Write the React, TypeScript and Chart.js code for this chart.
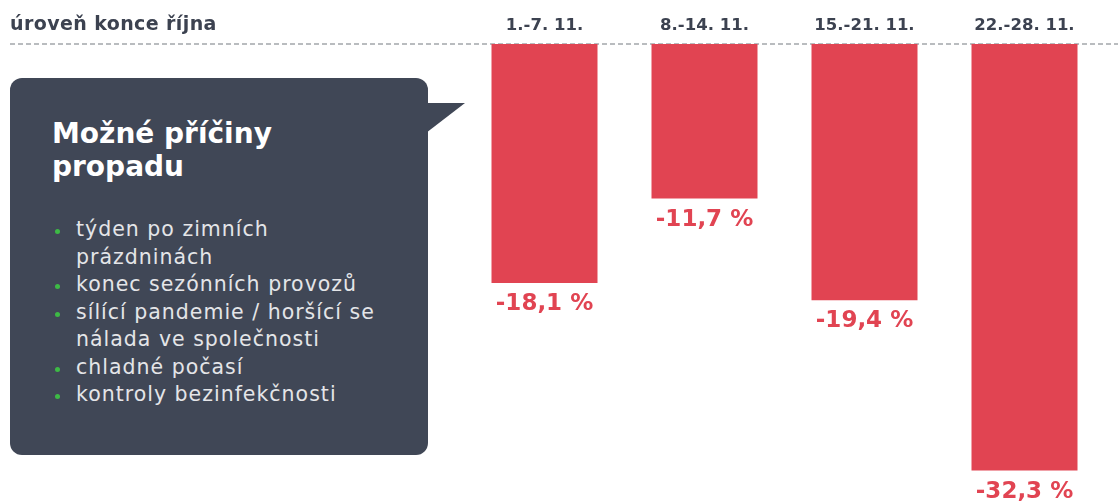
import React, { useEffect, useRef } from "react";
import { Chart, registerables } from "chart.js";

Chart.register(...registerables);

const categories = ["1.-7. 11.", "8.-14. 11.", "15.-21. 11.", "22.-28. 11."];
const changes = [-18.1, -11.7, -19.4, -32.3];
const baselineLabel = "úroveň konce října";
const boxTitle = ["Možné příčiny", "propadu"];
const reasons: string[][] = [
  ["týden po zimních", "prázdninách"],
  ["konec sezónních provozů"],
  ["sílící pandemie / horšící se", "nálada ve společnosti"],
  ["chladné počasí"],
  ["kontroly bezinfekčnosti"],
];

const RED = "#e14452";
const DARK = "#404756";
const FONT = "'DejaVu Sans', 'Noto Sans', sans-serif";

const fmt = (v: number) => v.toFixed(1).replace(".", ",") + " %";

export default function App() {
  const ref = useRef<HTMLCanvasElement | null>(null);

  useEffect(() => {
    if (!ref.current) return;
    const decor = {
      id: "decor",
      beforeDatasetsDraw(chart: any) {
        const { ctx } = chart;
        const y = chart.scales.y.getPixelForValue(0);
        ctx.save();
        ctx.strokeStyle = "#a3a6ab";
        ctx.lineWidth = 1.5;
        ctx.setLineDash([5, 3]);
        ctx.beginPath();
        ctx.moveTo(10, y);
        ctx.lineTo(chart.width, y);
        ctx.stroke();
        ctx.restore();
      },
      afterDatasetsDraw(chart: any) {
        const { ctx } = chart;
        const meta = chart.getDatasetMeta(0);
        ctx.save();
        ctx.fillStyle = RED;
        ctx.font = `bold 23px ${FONT}`;
        ctx.textAlign = "center";
        ctx.textBaseline = "middle";
        meta.data.forEach((bar: any, i: number) => {
          ctx.fillText(fmt(changes[i]), bar.x, bar.y + 21);
        });
        ctx.restore();
      },
    };
    const chart = new Chart(ref.current, {
      type: "bar",
      data: {
        labels: categories,
        datasets: [
          {
            data: changes,
            backgroundColor: RED,
            borderWidth: 0,
            barPercentage: 0.6625,
            categoryPercentage: 1,
          },
        ],
      },
      options: {
        animation: false,
        responsive: false,
        maintainAspectRatio: false,
        layout: { padding: { top: 8.3, bottom: 11, left: 464.5, right: 13.5 } },
        plugins: { legend: { display: false }, tooltip: { enabled: false } },
        scales: {
          x: {
            position: "top",
            grid: { display: false, drawTicks: false },
            border: { display: false },
            ticks: {
              padding: 8,
              color: "#3c4250",
              font: { family: FONT, size: 16.5, weight: "bold" },
            },
          },
          y: { display: false, min: -34, max: 0 },
        },
      },
      plugins: [decor],
    });
    return () => chart.destroy();
  }, []);

  return (
    <div style={{ position: "fixed", left: 0, top: 0, width: 1118, height: 504, background: "#fff", overflow: "hidden" }}>
      <canvas ref={ref} width={1118} height={504} style={{ position: "absolute", left: 0, top: 0 }} />
      <div
        style={{
          position: "absolute",
          left: 10,
          top: 12,
          fontFamily: FONT,
          fontWeight: "bold",
          fontSize: 19,
          letterSpacing: "0.4px",
          color: "#3c4250",
          whiteSpace: "nowrap",
        }}
      >
        {baselineLabel}
      </div>
      <div
        style={{
          position: "absolute",
          left: 10,
          top: 78,
          width: 418,
          height: 377,
          background: DARK,
          borderRadius: 12,
        }}
      />
      <svg style={{ position: "absolute", left: 0, top: 0 }} width={1118} height={504}>
        <polygon points="426,103 465,103 426,133" fill={DARK} />
      </svg>
      <div
        style={{
          position: "absolute",
          left: 52,
          top: 117,
          fontFamily: FONT,
          fontWeight: "bold",
          fontSize: 28,
          lineHeight: "33px",
          color: "#ffffff",
          whiteSpace: "nowrap",
        }}
      >
        {boxTitle.map((t, i) => (
          <div key={i}>{t}</div>
        ))}
      </div>
      <div
        style={{
          position: "absolute",
          left: 76,
          top: 216,
          fontFamily: FONT,
          fontSize: 20.5,
          letterSpacing: "1px",
          lineHeight: "27.5px",
          color: "#e4e5e8",
          whiteSpace: "nowrap",
        }}
      >
        {reasons.map((lines, i) => (
          <div key={i} style={{ position: "relative" }}>
            <span
              style={{
                position: "absolute",
                left: -21,
                top: 13,
                width: 5,
                height: 5,
                borderRadius: 3,
                background: "#3dba45",
              }}
            />
            {lines.map((l, j) => (
              <div key={j}>{l}</div>
            ))}
          </div>
        ))}
      </div>
    </div>
  );
}
